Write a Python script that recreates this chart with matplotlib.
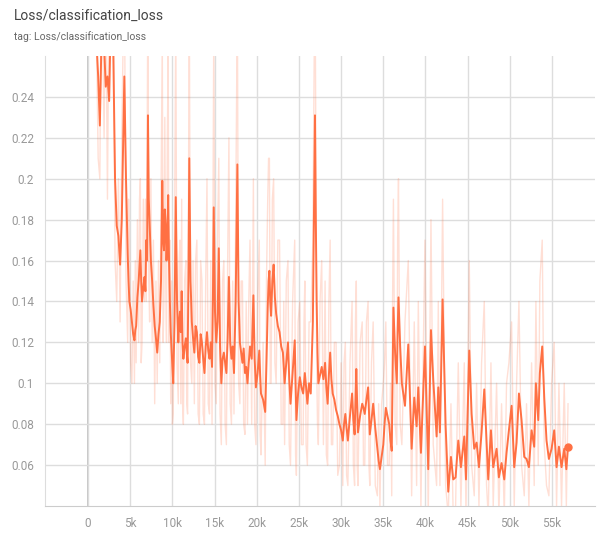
import matplotlib
matplotlib.use("Agg")
import matplotlib.pyplot as plt
from matplotlib.ticker import FixedLocator

# training steps and loss values (smoothed curve + raw values behind it)
steps = [
    900, 1200, 1400, 1600, 1900, 2100, 2300, 2500, 2700, 3000,
    3200, 3400, 3600, 3800, 4000, 4300, 4500, 4700, 4800, 4900,
    5050, 5200, 5350, 5500, 5600, 5700, 5850, 6000, 6100, 6200,
    6300, 6400, 6550, 6700, 6800, 6900, 7000, 7100, 7200, 7300,
    7450, 7600, 7750, 7900, 8050, 8200, 8350, 8500, 8650, 8800,
    8900, 9000, 9100, 9200, 9300, 9400, 9500, 9600, 9700, 9800,
    9900, 10000, 10100, 10250, 10400, 10550, 10700, 10800, 10900, 11000,
    11100, 11200, 11300, 11450, 11600, 11700, 11800, 11900, 12000, 12150,
    12300, 12450, 12600, 12750, 12900, 13050, 13200, 13350, 13500, 13650,
    13800, 13950, 14100, 14250, 14400, 14550, 14700, 14800, 14900, 15050,
    15200, 15350, 15500, 15650, 15800, 15950, 16100, 16250, 16400, 16550,
    16700, 16850, 17000, 17150, 17300, 17500, 17700, 17850, 18000, 18150,
    18300, 18450, 18600, 18750, 18900, 19050, 19200, 19400, 19600, 19750,
    19900, 20100, 20300, 20400, 20500, 20750, 21000, 21150, 21300, 21400,
    21500, 21600, 21700, 21850, 22000, 22150, 22300, 22500, 22700, 22900,
    23100, 23200, 23300, 23500, 23700, 23850, 24000, 24250, 24500, 24600,
    24700, 24900, 25100, 25300, 25500, 25600, 25700, 25850, 26000, 26200,
    26400, 26650, 26900, 27000, 27100, 27200, 27300, 27500, 27700, 27900,
    28100, 28250, 28400, 28550, 28700, 28850, 29000, 29200, 29400, 29600,
    29800, 30000, 30200, 30350, 30500, 30650, 30800, 31050, 31300, 31450,
    31600, 31700, 31800, 31900, 32000, 32250, 32500, 32650, 32800, 33000,
    33200, 33300, 33400, 33600, 33800, 34050, 34300, 34450, 34600, 34800,
    35000, 35150, 35300, 35500, 35700, 35850, 36000, 36100, 36200, 36400,
    36600, 36700, 36800, 37000, 37200, 37570, 37960, 38360, 38670, 38950,
    39150, 39460, 39940, 40330, 40650, 40920, 41320, 41520, 41710, 42030,
    42390, 42700, 43020, 43290, 43570, 43890, 44200, 44600, 44800, 45190,
    45470, 45780, 46060, 46340, 46650, 46970, 47240, 47440, 47760, 48030,
    48430, 48700, 49020, 49340, 49610, 49890, 50210, 50520, 50800, 51080,
    51390, 51710, 51980, 52260, 52580, 52890, 53090, 53370, 53560, 53840,
    54080, 54350, 54630, 54950, 55260, 55540, 55820, 56130, 56450, 56700,
    56900,
]

smoothed_loss = [
    0.275, 0.250, 0.226, 0.270, 0.265, 0.245, 0.250, 0.238, 0.280, 0.260,
    0.200, 0.177, 0.172, 0.158, 0.180, 0.250, 0.200, 0.163, 0.150, 0.140,
    0.136, 0.130, 0.124, 0.121, 0.126, 0.128, 0.142, 0.150, 0.158, 0.165,
    0.150, 0.140, 0.147, 0.152, 0.145, 0.170, 0.160, 0.231, 0.190, 0.178,
    0.160, 0.150, 0.138, 0.128, 0.122, 0.115, 0.124, 0.130, 0.150, 0.199,
    0.170, 0.165, 0.185, 0.178, 0.160, 0.170, 0.192, 0.160, 0.140, 0.125,
    0.116, 0.108, 0.100, 0.130, 0.191, 0.140, 0.120, 0.130, 0.135, 0.125,
    0.145, 0.120, 0.112, 0.118, 0.122, 0.115, 0.110, 0.150, 0.210, 0.150,
    0.130, 0.122, 0.115, 0.128, 0.125, 0.113, 0.110, 0.124, 0.120, 0.112,
    0.105, 0.118, 0.125, 0.116, 0.112, 0.120, 0.108, 0.140, 0.186, 0.135,
    0.120, 0.130, 0.166, 0.118, 0.100, 0.112, 0.115, 0.110, 0.105, 0.122,
    0.152, 0.120, 0.112, 0.118, 0.105, 0.140, 0.207, 0.140, 0.120, 0.115,
    0.110, 0.117, 0.105, 0.108, 0.100, 0.110, 0.118, 0.112, 0.143, 0.112,
    0.098, 0.105, 0.116, 0.104, 0.095, 0.092, 0.086, 0.110, 0.137, 0.150,
    0.155, 0.140, 0.133, 0.150, 0.158, 0.142, 0.134, 0.128, 0.125, 0.118,
    0.115, 0.108, 0.100, 0.110, 0.120, 0.102, 0.090, 0.105, 0.121, 0.100,
    0.082, 0.095, 0.103, 0.098, 0.095, 0.100, 0.105, 0.098, 0.090, 0.100,
    0.095, 0.130, 0.231, 0.180, 0.140, 0.115, 0.100, 0.104, 0.108, 0.102,
    0.110, 0.098, 0.090, 0.104, 0.115, 0.102, 0.095, 0.092, 0.087, 0.084,
    0.080, 0.077, 0.072, 0.080, 0.085, 0.078, 0.072, 0.084, 0.095, 0.082,
    0.075, 0.092, 0.107, 0.090, 0.076, 0.084, 0.090, 0.088, 0.085, 0.092,
    0.098, 0.086, 0.075, 0.082, 0.090, 0.078, 0.068, 0.062, 0.058, 0.064,
    0.070, 0.080, 0.088, 0.084, 0.080, 0.072, 0.067, 0.100, 0.137, 0.115,
    0.100, 0.125, 0.142, 0.118, 0.100, 0.089, 0.119, 0.068, 0.093, 0.079,
    0.098, 0.066, 0.118, 0.058, 0.126, 0.102, 0.074, 0.098, 0.076, 0.141,
    0.079, 0.047, 0.064, 0.053, 0.054, 0.072, 0.059, 0.074, 0.053, 0.116,
    0.085, 0.068, 0.071, 0.059, 0.076, 0.097, 0.072, 0.053, 0.077, 0.059,
    0.068, 0.054, 0.061, 0.053, 0.066, 0.077, 0.089, 0.059, 0.071, 0.095,
    0.082, 0.064, 0.063, 0.059, 0.077, 0.069, 0.100, 0.082, 0.105, 0.118,
    0.093, 0.072, 0.063, 0.068, 0.077, 0.059, 0.069, 0.059, 0.068, 0.058,
    0.069,
]

raw_loss = [
    0.300, 0.210, 0.200, 0.320, 0.220, 0.300, 0.190, 0.300, 0.330, 0.300,
    0.160, 0.140, 0.200, 0.130, 0.220, 0.310, 0.150, 0.120, 0.190, 0.170,
    0.110, 0.100, 0.150, 0.100, 0.160, 0.110, 0.180, 0.120, 0.190, 0.200,
    0.110, 0.120, 0.190, 0.140, 0.190, 0.140, 0.210, 0.300, 0.150, 0.130,
    0.200, 0.120, 0.170, 0.090, 0.150, 0.100, 0.160, 0.110, 0.190, 0.270,
    0.120, 0.140, 0.230, 0.150, 0.120, 0.220, 0.260, 0.120, 0.170, 0.090,
    0.150, 0.080, 0.085, 0.170, 0.280, 0.110, 0.090, 0.160, 0.170, 0.090,
    0.190, 0.090, 0.080, 0.150, 0.160, 0.090, 0.085, 0.190, 0.290, 0.110,
    0.100, 0.160, 0.090, 0.160, 0.170, 0.085, 0.080, 0.160, 0.150, 0.085,
    0.080, 0.150, 0.200, 0.090, 0.085, 0.160, 0.080, 0.180, 0.270, 0.100,
    0.090, 0.170, 0.210, 0.085, 0.070, 0.150, 0.160, 0.080, 0.070, 0.160,
    0.220, 0.090, 0.080, 0.150, 0.085, 0.180, 0.290, 0.100, 0.090, 0.150,
    0.150, 0.080, 0.075, 0.140, 0.080, 0.140, 0.170, 0.080, 0.200, 0.080,
    0.070, 0.140, 0.170, 0.075, 0.065, 0.120, 0.060, 0.150, 0.190, 0.210,
    0.210, 0.100, 0.100, 0.190, 0.200, 0.110, 0.100, 0.170, 0.170, 0.080,
    0.080, 0.140, 0.070, 0.150, 0.160, 0.070, 0.060, 0.140, 0.170, 0.065,
    0.055, 0.130, 0.140, 0.070, 0.070, 0.130, 0.150, 0.070, 0.060, 0.130,
    0.130, 0.170, 0.310, 0.220, 0.110, 0.080, 0.070, 0.140, 0.160, 0.070,
    0.150, 0.065, 0.060, 0.140, 0.170, 0.070, 0.070, 0.120, 0.120, 0.055,
    0.060, 0.110, 0.050, 0.110, 0.120, 0.055, 0.050, 0.110, 0.140, 0.060,
    0.050, 0.130, 0.150, 0.060, 0.050, 0.120, 0.130, 0.060, 0.060, 0.130,
    0.140, 0.060, 0.050, 0.110, 0.130, 0.050, 0.045, 0.090, 0.040, 0.090,
    0.100, 0.110, 0.130, 0.060, 0.060, 0.100, 0.045, 0.140, 0.190, 0.080,
    0.070, 0.170, 0.200, 0.080, 0.070, 0.130, 0.160, 0.045, 0.130, 0.050,
    0.140, 0.040, 0.170, 0.035, 0.180, 0.070, 0.050, 0.140, 0.050, 0.190,
    0.050, 0.035, 0.090, 0.035, 0.040, 0.110, 0.040, 0.110, 0.035, 0.160,
    0.060, 0.045, 0.100, 0.040, 0.110, 0.140, 0.050, 0.035, 0.110, 0.040,
    0.100, 0.035, 0.090, 0.035, 0.100, 0.110, 0.130, 0.040, 0.100, 0.140,
    0.060, 0.045, 0.090, 0.040, 0.110, 0.050, 0.140, 0.060, 0.150, 0.170,
    0.070, 0.050, 0.045, 0.100, 0.120, 0.040, 0.100, 0.040, 0.100, 0.040,
    0.090,
]

assert len(steps) == len(smoothed_loss) == len(raw_loss)

x_ticks = [0, 5000, 10000, 15000, 20000, 25000, 30000, 35000, 40000, 45000, 50000, 55000]
x_tick_labels = ["0", "5k", "10k", "15k", "20k", "25k", "30k", "35k", "40k", "45k", "50k", "55k"]
y_ticks = [0.06, 0.08, 0.1, 0.12, 0.14, 0.16, 0.18, 0.2, 0.22, 0.24]
y_tick_labels = ["0.06", "0.08", "0.1", "0.12", "0.14", "0.16", "0.18", "0.2", "0.22", "0.24"]

LINE_COLOR = "#ff7043"
FONT = ["Roboto", "DejaVu Sans"]

fig = plt.figure(figsize=(6.06, 5.37), dpi=100)
ax = fig.add_axes([0.0743, 0.0577, 0.9076, 0.838])

ax.plot(steps, raw_loss, color=LINE_COLOR, alpha=0.22, linewidth=1.0)
ax.plot(steps, smoothed_loss, color=LINE_COLOR, linewidth=1.4)
ax.plot(steps[-1], smoothed_loss[-1], "o", color=LINE_COLOR, markersize=5)

ax.set_xlim(-5100, 60100)
ax.set_ylim(0.04, 0.26)
ax.xaxis.set_major_locator(FixedLocator(x_ticks))
ax.yaxis.set_major_locator(FixedLocator(y_ticks))
ax.set_xticklabels(x_tick_labels, family=FONT, fontsize=8.5, color="#999999")
ax.set_yticklabels(y_tick_labels, family=FONT, fontsize=8.5, color="#999999")
ax.tick_params(length=0, pad=8)

ax.grid(True, color="#dddddd", linewidth=1.0)
ax.set_axisbelow(True)
ax.axvline(0, color="#bbbbbb", linewidth=1.2, zorder=0)

for side in ["top", "right"]:
    ax.spines[side].set_visible(False)
ax.spines["left"].set_color("#dddddd")
ax.spines["bottom"].set_color("#cccccc")

fig.text(14 / 606, 1 - 16 / 537, "Loss/classification_loss", family=FONT,
         fontsize=10, color="#444444", va="center")
fig.text(14 / 606, 1 - 37 / 537, "tag: Loss/classification_loss", family=FONT,
         fontsize=7.5, color="#666666", va="center")

fig.savefig("out.png", dpi=100)
